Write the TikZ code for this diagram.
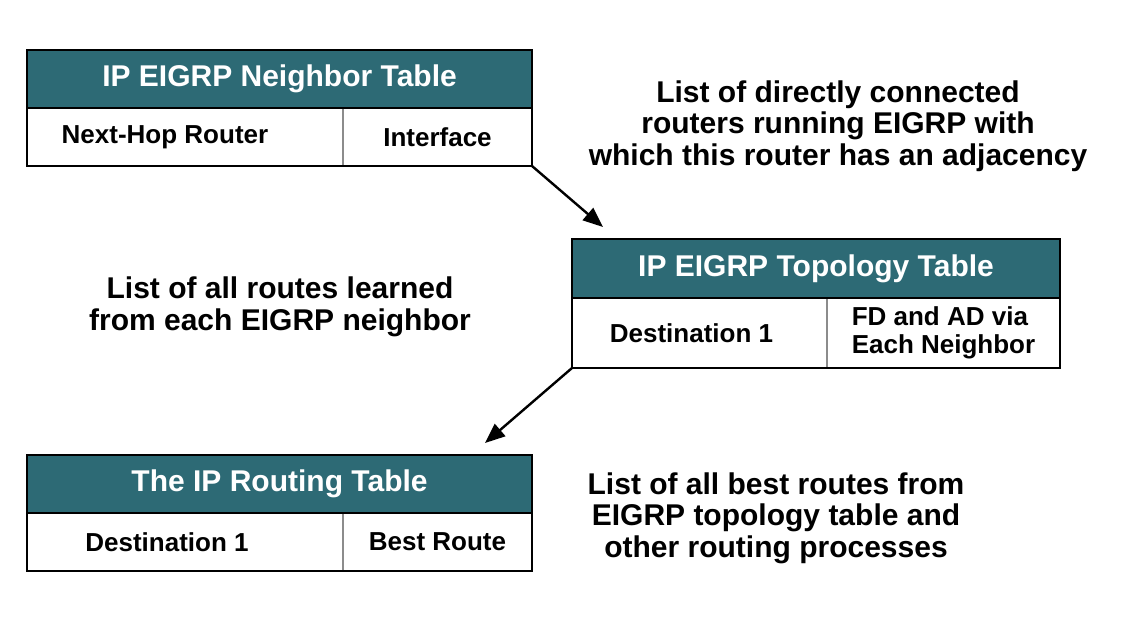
\documentclass[tikz,border=0pt]{standalone}
\usepackage{fontspec}
\setmainfont{Liberation Sans}
\usepackage{tikz}
\usetikzlibrary{arrows.meta, positioning}
\tikzset{>={Triangle[length=10pt, width=8pt]}}
\definecolor{eigrpteal}{RGB}{45,106,117}
\tikzset{
  tblhead/.style={fill=eigrpteal, text=white, outer sep=0pt, inner sep=0pt,
    font=\bfseries\fontsize{15}{16}\selectfont},
  tblcell/.style={outer sep=0pt, inner sep=0pt, align=left,
    font=\bfseries\fontsize{13}{14}\selectfont},
  tblframe/.style={draw=black, line width=1.2pt},
  tbldiv/.style={draw=black!45, line width=0.8pt},
  desc/.style={align=center, font=\bfseries\fontsize{15}{15.8}\selectfont},
  flow/.style={->, line width=1.2pt}
}

\begin{document}
\begin{tikzpicture}[x=0.5pt, y=-0.5pt]
    \useasboundingbox (0, 0) rectangle (1122, 616);
    % neighbor table
    \node [tblhead, minimum width=252.5pt, minimum height=29pt] (nbhead) at (279.5, 79) {IP EIGRP Neighbor Table};
    \node [tblcell, minimum width=158pt, minimum height=29pt, anchor=north west] (nbhop) at (nbhead.south west) {Next-Hop Router\hspace*{20pt}};
    \node [tblcell, minimum width=94.5pt, minimum height=29pt, anchor=north west] (nbif) at (nbhop.north east) {Interface};
    \draw [tbldiv] (nbhop.north east) -- (nbhop.south east);
    \draw [tblframe] (nbhead.south west) -- (nbhead.south east);
    \draw [tblframe] (nbhead.north west) rectangle (nbif.south east);
    % topology table
    \node [tblhead, minimum width=244pt, minimum height=29.5pt] (tphead) at (816, 268.5) {IP EIGRP Topology Table};
    \node [tblcell, minimum width=127.5pt, minimum height=35pt, anchor=north west] (tpdest) at (tphead.south west) {Destination 1\hspace*{8pt}};
    \node [tblcell, minimum width=116.5pt, minimum height=35pt, anchor=north west] (tpfdad) at (tpdest.north east) {FD and AD via\\Each Neighbor};
    \draw [tbldiv] (tpdest.north east) -- (tpdest.south east);
    \draw [tblframe] (tphead.south west) -- (tphead.south east);
    \draw [tblframe] (tphead.north west) rectangle (tpfdad.south east);
    % routing table
    \node [tblhead, minimum width=252.5pt, minimum height=29pt] (rthead) at (279.5, 484) {The IP Routing Table};
    \node [tblcell, minimum width=158pt, minimum height=29pt, anchor=north west] (rtdest) at (rthead.south west) {Destination 1\hspace*{18pt}};
    \node [tblcell, minimum width=94.5pt, minimum height=29pt, anchor=north west] (rtbest) at (rtdest.north east) {Best Route};
    \draw [tbldiv] (rtdest.north east) -- (rtdest.south east);
    \draw [tblframe] (rthead.south west) -- (rthead.south east);
    \draw [tblframe] (rthead.north west) rectangle (rtbest.south east);
    % notes
    \node [desc] (nbnote) at (838, 126) {List of directly connected\\routers running EIGRP with\\which this router has an adjacency};
    \node [desc] (tpnote) at (280, 307) {List of all routes learned\\from each EIGRP neighbor};
    \node [desc] (rtnote) at (776, 518) {List of all best routes from\\EIGRP topology table and\\other routing processes};
    % arrows
    \coordinate (tptip) at (603, 227);
    \coordinate (rttip) at (485, 443);
    \draw [flow] (nbif.south east) -- (tptip);
    \draw [flow] (tpdest.south west) -- (rttip);
\end{tikzpicture}
\end{document}
